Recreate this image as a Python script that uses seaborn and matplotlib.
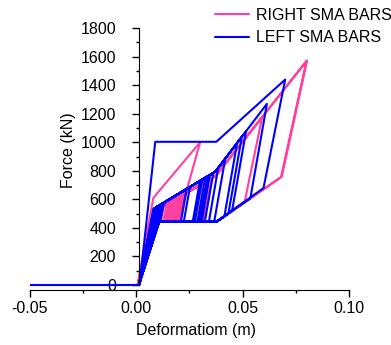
import numpy as np
import pandas as pd
import matplotlib
matplotlib.use('Agg')
import matplotlib.pyplot as plt
import seaborn as sns
from matplotlib.ticker import MultipleLocator, FormatStrFormatter

sns.set_style('ticks')
plt.rcParams['font.family'] = ['Liberation Sans', 'DejaVu Sans']
plt.rcParams['font.size'] = 11.5
plt.rcParams['axes.unicode_minus'] = False
plt.rcParams['text.color'] = 'black'
plt.rcParams['axes.labelcolor'] = 'black'
plt.rcParams['xtick.color'] = 'black'
plt.rcParams['ytick.color'] = 'black'

# shared lower (return) branch knee
lower_knee_x = 0.0376
lower_f = 442
res_x = 0.0012

# ---- LEFT SMA BARS (blue) ----
# first big loop
left_env_x = [-0.05, 0.0015, 0.0089, 0.0376, 0.0700, 0.0598, 0.0376, 0.0088, 0.0012]
left_env_f = [0, 0, 1003, 1003, 1439, 679, 442, 442, 0]
left_upper_knee = (0.0371, 793)
# later cycles
left_peak_x = [0.0094, 0.0103, 0.0113, 0.0122, 0.0131, 0.0236, 0.0252, 0.0299, 0.0310, 0.0323,
               0.0335, 0.0346, 0.0362, 0.0385, 0.0418, 0.0474, 0.0496, 0.0516, 0.0614]
left_peak_f = [545, 553, 562, 570, 578, 672, 686, 728, 738, 750,
               761, 771, 785, 820, 885, 995, 1038, 1077, 1269]
left_unload_x = [0.0083, 0.0090, 0.0098, 0.0106, 0.0113, 0.0209, 0.0223, 0.0265, 0.0275, 0.0287,
                 0.0297, 0.0307, 0.0322, 0.0341, 0.0366, 0.0414, 0.0433, 0.0450, 0.0536]
left_unload_f = [442, 442, 442, 442, 442, 442, 442, 442, 442, 442,
                 442, 442, 442, 442, 442, 481, 501, 518, 606]
left_knee_x = [0.0080, 0.0082, 0.0084, 0.0086, 0.0088, 0.0090, 0.0092, 0.0094, 0.0096, 0.0098,
               0.0100, 0.0101, 0.0102, 0.0103, 0.0104, 0.0105, 0.0106, 0.0107, 0.0108]
left_knee_f = [532, 534, 535, 537, 539, 541, 543, 544, 546, 548,
               550, 551, 552, 553, 554, 554, 555, 556, 557]

# ---- RIGHT SMA BARS (pink) ----
right_env_x = [-0.05, 0.0005, 0.0080, 0.0300, 0.0195, 0.0088, 0.0010]
right_env_f = [0, 0, 610, 1000, 442, 442, 0]
right_upper_knee = (0.0371, 761)
right_peak_x = [0.0127, 0.0142, 0.0154, 0.0163, 0.0169, 0.0178, 0.0189, 0.0197, 0.0205, 0.0213,
                0.0221, 0.0229, 0.0235, 0.0332, 0.0355, 0.0592, 0.0803, 0.0800]
right_peak_f = [552, 565, 576, 583, 588, 596, 605, 612, 619, 626,
                633, 640, 645, 728, 748, 1177, 1574, 1568]
right_unload_x = [0.0112, 0.0126, 0.0136, 0.0144, 0.0150, 0.0157, 0.0167, 0.0174, 0.0181, 0.0188,
                  0.0196, 0.0203, 0.0208, 0.0294, 0.0314, 0.0510, 0.0684, 0.0680]
right_unload_f = [442, 442, 442, 442, 442, 442, 442, 442, 442, 442,
                  442, 442, 442, 442, 442, 587, 759, 755]
right_knee_x = [0.0082, 0.0083, 0.0084, 0.0085, 0.0086, 0.0087, 0.0088, 0.0089, 0.0090, 0.0091,
                0.0092, 0.0093, 0.0094, 0.0095, 0.0096, 0.0097, 0.0098, 0.0099]
right_knee_f = [514, 515, 516, 517, 517, 518, 519, 520, 521, 522,
                523, 523, 524, 525, 526, 527, 528, 528]


def build_path(env_x, env_f, knee_x, knee_f, peak_x, peak_f, unload_x, unload_f, upper_knee):
    xs, fs = list(env_x), list(env_f)
    for i in range(len(peak_x)):
        xs += [res_x, knee_x[i]]
        fs += [0, knee_f[i]]
        if peak_x[i] > upper_knee[0]:
            xs.append(upper_knee[0])
            fs.append(upper_knee[1])
        xs += [peak_x[i], unload_x[i]]
        fs += [peak_f[i], unload_f[i]]
        if unload_x[i] > lower_knee_x:
            xs.append(lower_knee_x)
            fs.append(lower_f)
        xs += [knee_x[i], res_x]
        fs += [lower_f, 0]
    return xs, fs


rx, rf = build_path(right_env_x, right_env_f, right_knee_x, right_knee_f, right_peak_x,
                    right_peak_f, right_unload_x, right_unload_f, right_upper_knee)
lx, lf = build_path(left_env_x, left_env_f, left_knee_x, left_knee_f, left_peak_x,
                    left_peak_f, left_unload_x, left_unload_f, left_upper_knee)

df = pd.DataFrame({'x': rx + lx, 'F': rf + lf,
                   'series': ['RIGHT SMA BARS'] * len(rx) + ['LEFT SMA BARS'] * len(lx)})

fig = plt.figure(figsize=(3.91, 3.45), dpi=100)
ax = fig.add_axes([30 / 391, 55 / 345, 319 / 391, 262 / 345])

sns.lineplot(data=df, x='x', y='F', hue='series', hue_order=['RIGHT SMA BARS', 'LEFT SMA BARS'],
             palette=['#ff40a0', '#0000ff'], sort=False, estimator=None, lw=1.5, ax=ax)

ax.set_xlim(-0.05, 0.10)
ax.set_ylim(-35, 1800)
ax.xaxis.set_major_locator(MultipleLocator(0.05))
ax.xaxis.set_minor_locator(MultipleLocator(0.025))
ax.xaxis.set_major_formatter(FormatStrFormatter('%.2f'))
ax.yaxis.set_major_locator(MultipleLocator(200))
ax.yaxis.set_minor_locator(MultipleLocator(100))

for s in ['top', 'right']:
    ax.spines[s].set_visible(False)
ax.spines['left'].set_position(('data', 0.0013))
ax.spines['left'].set_bounds(0, 1800)
ax.spines['left'].set_color('black')
ax.spines['bottom'].set_color('black')

ax.tick_params(axis='both', which='major', length=5, width=1, direction='out', colors='black')
ax.tick_params(axis='both', which='minor', length=2.5, width=1, direction='out')
ax.tick_params(axis='y', which='major', pad=11.5)
ax.tick_params(axis='x', which='major', pad=3)

ax.set_xlabel('Deformatiom (m)')
ax.set_ylabel('Force (kN)')
ax.xaxis.set_label_coords(0.52, -0.125)
ax.yaxis.set_label_coords(0.145, 0.535)

handles, labels = ax.get_legend_handles_labels()
ax.legend(handles, labels, loc='upper left', bbox_to_anchor=(215 / 391, 1 - 8 / 345),
          bbox_transform=fig.transFigure, frameon=False, borderpad=0, borderaxespad=0,
          handlelength=2.1, handletextpad=0.45, labelspacing=0.45)

fig.savefig('out.png', dpi=100)
